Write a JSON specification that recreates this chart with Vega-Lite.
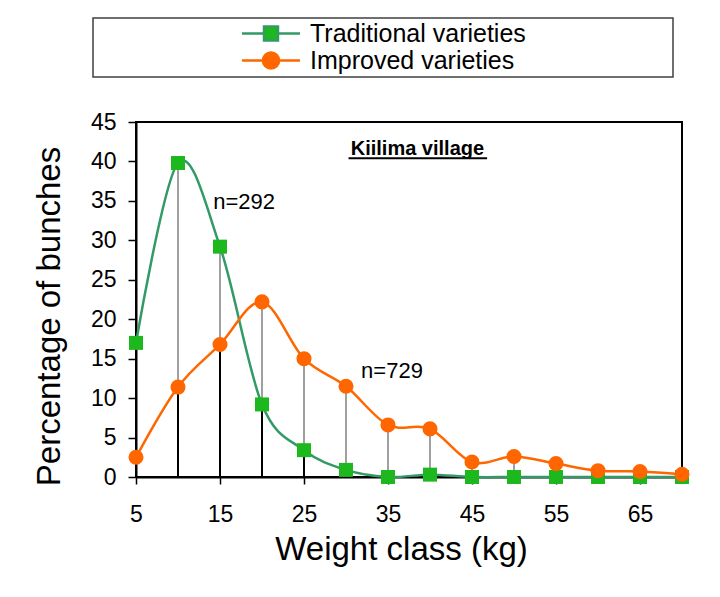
{
  "$schema": "https://vega.github.io/schema/vega-lite/v6.json",
  "width": 546,
  "height": 355,
  "autosize": {"type": "none"},
  "padding": {"left": 136, "top": 122, "right": 38, "bottom": 120},
  "background": "white",
  "config": {
    "font": "Liberation Sans",
    "view": {"stroke": "#000", "strokeWidth": 2}
  },
  "data": {
    "values": [
      {"x": 5, "series": "Traditional varieties", "value": 17.0},
      {"x": 10, "series": "Traditional varieties", "value": 39.8},
      {"x": 15, "series": "Traditional varieties", "value": 29.2},
      {"x": 20, "series": "Traditional varieties", "value": 9.2},
      {"x": 25, "series": "Traditional varieties", "value": 3.4},
      {"x": 30, "series": "Traditional varieties", "value": 0.9},
      {"x": 35, "series": "Traditional varieties", "value": 0.0},
      {"x": 40, "series": "Traditional varieties", "value": 0.3},
      {"x": 45, "series": "Traditional varieties", "value": 0.0},
      {"x": 50, "series": "Traditional varieties", "value": 0.0},
      {"x": 55, "series": "Traditional varieties", "value": 0.0},
      {"x": 60, "series": "Traditional varieties", "value": 0.0},
      {"x": 65, "series": "Traditional varieties", "value": 0.0},
      {"x": 70, "series": "Traditional varieties", "value": 0.0},
      {"x": 5, "series": "Improved varieties", "value": 2.5},
      {"x": 10, "series": "Improved varieties", "value": 11.4},
      {"x": 15, "series": "Improved varieties", "value": 16.8},
      {"x": 20, "series": "Improved varieties", "value": 22.2},
      {"x": 25, "series": "Improved varieties", "value": 15.0},
      {"x": 30, "series": "Improved varieties", "value": 11.5},
      {"x": 35, "series": "Improved varieties", "value": 6.6},
      {"x": 40, "series": "Improved varieties", "value": 6.1},
      {"x": 45, "series": "Improved varieties", "value": 1.9},
      {"x": 50, "series": "Improved varieties", "value": 2.6},
      {"x": 55, "series": "Improved varieties", "value": 1.7},
      {"x": 60, "series": "Improved varieties", "value": 0.8},
      {"x": 65, "series": "Improved varieties", "value": 0.7},
      {"x": 70, "series": "Improved varieties", "value": 0.35}
    ]
  },
  "encoding": {
    "x": {
      "field": "x",
      "type": "quantitative",
      "scale": {"domain": [5, 70], "nice": false, "zero": false},
      "axis": {
        "values": [5, 15, 25, 35, 45, 55, 65],
        "title": "Weight class (kg)",
        "titleFontSize": 33,
        "titleFontWeight": "normal",
        "titleColor": "#000",
        "titlePadding": 7,
        "titleX": 265,
        "labelFontSize": 23,
        "labelColor": "#000",
        "labelPadding": 19,
        "labelFlush": false,
        "tickSize": 7,
        "tickColor": "#000",
        "tickWidth": 1.5,
        "domainColor": "#000",
        "domainWidth": 2,
        "grid": false
      }
    },
    "y": {
      "field": "value",
      "type": "quantitative",
      "scale": {"domain": [0, 45], "nice": false},
      "axis": {
        "values": [0, 5, 10, 15, 20, 25, 30, 35, 40, 45],
        "title": "Percentage of bunches",
        "titleFontSize": 33,
        "titleFontWeight": "normal",
        "titleColor": "#000",
        "titlePadding": 24,
        "titleY": 194,
        "labelFontSize": 23,
        "labelColor": "#000",
        "labelPadding": 12,
        "tickSize": 8,
        "tickColor": "#000",
        "tickWidth": 1.5,
        "domainColor": "#000",
        "domainWidth": 2,
        "grid": false
      }
    }
  },
  "layer": [
    {
      "transform": [{"filter": "datum.x > 5"}],
      "mark": {"type": "rule", "color": "#000", "strokeWidth": 2},
      "encoding": {
        "y": {"aggregate": "min", "field": "value", "type": "quantitative"},
        "y2": {"datum": 0}
      }
    },
    {
      "transform": [{"filter": "datum.x > 5"}],
      "mark": {"type": "rule", "color": "#808080", "strokeWidth": 1.5},
      "encoding": {
        "y": {"aggregate": "min", "field": "value", "type": "quantitative"},
        "y2": {"aggregate": "max", "field": "value"}
      }
    },
    {
      "transform": [{"filter": "datum.series === 'Traditional varieties'"}],
      "mark": {"type": "line", "interpolate": "cardinal", "tension": 0, "strokeWidth": 2.5},
      "encoding": {
        "color": {
          "field": "series",
          "type": "nominal",
          "scale": {"domain": ["Traditional varieties", "Improved varieties"], "range": ["#339966", "#FF6600"]},
          "legend": {
            "orient": "none",
            "legendX": -43,
            "legendY": -104,
            "title": null,
            "labelFontSize": 25,
            "labelColor": "#000",
            "labelLimit": 1000,
            "labelOffset": 26.5,
            "symbolSize": 289,
            "symbolStrokeWidth": 2.5,
            "symbolType": "M-3.41,0H3.41",
            "symbolOffset": 162.5,
            "rowPadding": 0,
            "padding": 3,
            "strokeColor": "#404040",
            "fillColor": "white",
            "encode": {
              "legend": {"update": {"strokeWidth": {"value": 1.5}}},
              "symbols": {
                "update": {
                  "shape": {"signal": "datum.value === 'Traditional varieties' ? 'M-3.41,0H-0.82M0.82,0H3.41M-0.82,-0.82H0.82V0.82H-0.82ZM46.3,0' : 'M-3.41,0H-0.95M0.95,0H3.41M-0.95,0A0.95,0.95 0 1,0 0.95,0A0.95,0.95 0 1,0 -0.95,0ZM46.3,0'"},
                  "fill": {"signal": "datum.value === 'Traditional varieties' ? '#1DB81D' : '#FF6600'"},
                  "stroke": {"signal": "datum.value === 'Traditional varieties' ? '#339966' : '#FF6600'"},
                  "opacity": {"value": 1}
                }
              }
            }
          }
        }
      }
    },
    {
      "transform": [{"filter": "datum.series === 'Traditional varieties'"}],
      "mark": {"type": "point", "shape": "square", "filled": true, "size": 196, "color": "#1DB81D", "opacity": 1}
    },
    {
      "transform": [{"filter": "datum.series === 'Improved varieties'"}],
      "mark": {"type": "line", "interpolate": "cardinal", "tension": 0, "strokeWidth": 2.5},
      "encoding": {
        "color": {"field": "series", "type": "nominal"}
      }
    },
    {
      "transform": [{"filter": "datum.series === 'Improved varieties'"}],
      "mark": {"type": "point", "shape": "circle", "filled": true, "size": 227, "color": "#FF6600", "opacity": 1}
    },
    {
      "transform": [{"filter": "datum.x === 5 && datum.series === 'Traditional varieties'"}],
      "mark": {"type": "text", "text": "Kiilima village", "fontSize": 20, "fontWeight": "bold", "align": "center", "baseline": "alphabetic", "color": "#000"},
      "encoding": {"x": {"datum": 38.5}, "y": {"datum": 40.8}}
    },
    {
      "transform": [{"filter": "datum.x === 5 && datum.series === 'Traditional varieties'"}],
      "mark": {"type": "rule", "color": "#000", "strokeWidth": 2},
      "encoding": {"x": {"datum": 30.3}, "x2": {"datum": 46.8}, "y": {"datum": 40.4}}
    },
    {
      "transform": [{"filter": "datum.x === 5 && datum.series === 'Traditional varieties'"}],
      "mark": {"type": "text", "text": "n=292", "fontSize": 22, "align": "left", "baseline": "alphabetic", "color": "#000"},
      "encoding": {"x": {"datum": 14.2}, "y": {"datum": 34.0}}
    },
    {
      "transform": [{"filter": "datum.x === 5 && datum.series === 'Traditional varieties'"}],
      "mark": {"type": "text", "text": "n=729", "fontSize": 22, "align": "left", "baseline": "alphabetic", "color": "#000"},
      "encoding": {"x": {"datum": 31.8}, "y": {"datum": 12.5}}
    }
  ]
}
